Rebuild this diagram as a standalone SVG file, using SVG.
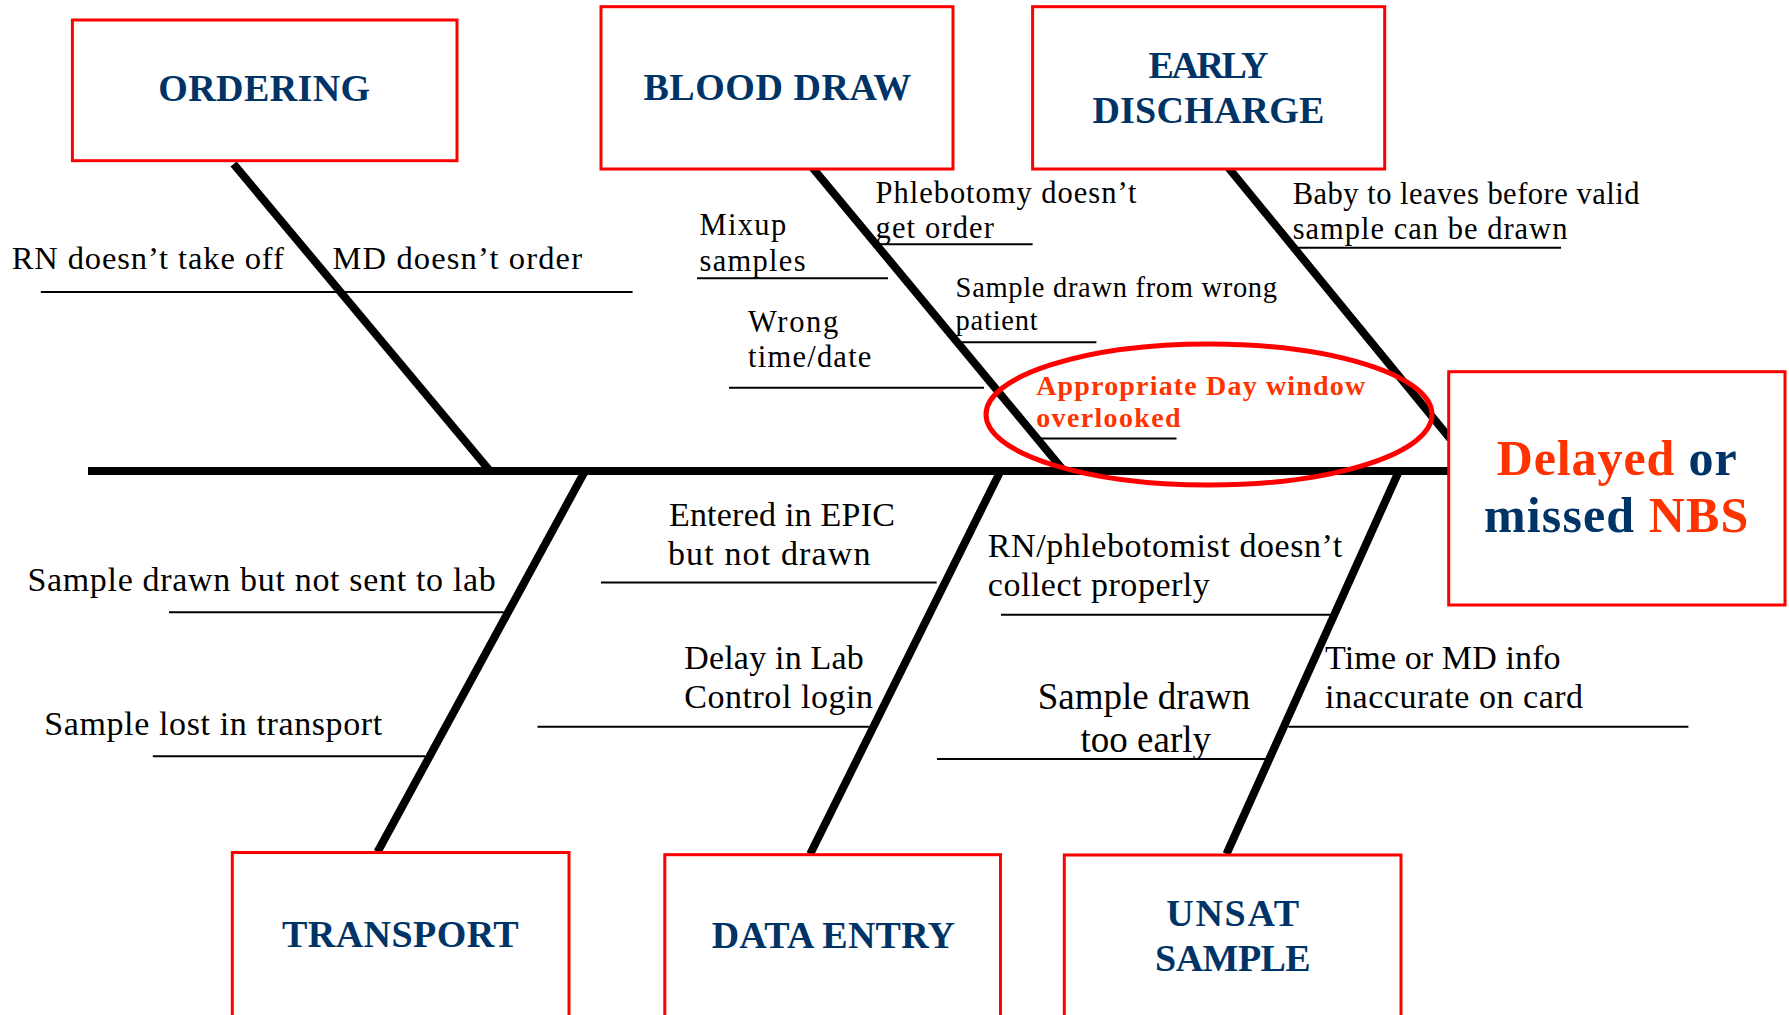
<svg xmlns="http://www.w3.org/2000/svg" width="1789" height="1015" viewBox="0 0 1789 1015">
<style>
.box{fill:#fff;stroke:#ff0000;stroke-width:3}
.head{font-family:"Liberation Serif","Times New Roman",serif;font-weight:bold;font-size:38px;fill:#003366;text-anchor:middle}
.lbl{font-family:"Liberation Serif","Times New Roman",serif;fill:#000}
.s33{font-size:34px}
.s31{font-size:32.5px}
.s29{font-size:30.5px}
.bone{stroke:#000;stroke-width:8;fill:none}
.ul{stroke:#000;stroke-width:2;fill:none}
.red{fill:#ff3300;font-weight:bold}
.navy{fill:#003366}
</style>
<rect width="1789" height="1015" fill="#fff"/>
<g id="connectors">
<line class="bone" x1="88" y1="471" x2="1449" y2="471"/>
<line class="bone" x1="233.6" y1="164" x2="490" y2="471"/>
<line class="bone" x1="811.7" y1="166.7" x2="1064" y2="471"/>
<line class="bone" x1="1227.6" y1="166.7" x2="1450" y2="438.5"/>
<line class="bone" x1="585" y1="471" x2="377.5" y2="852"/>
<line class="bone" x1="1000.5" y1="471" x2="810.2" y2="854"/>
<line class="bone" x1="1399" y1="471" x2="1226.5" y2="854"/>
<line class="ul" x1="40.8" y1="292" x2="632.6" y2="292"/>
<line class="ul" x1="697" y1="278.3" x2="888" y2="278.3"/>
<line class="ul" x1="875.5" y1="244.3" x2="1032.6" y2="244.3"/>
<line class="ul" x1="957" y1="342.3" x2="1096.4" y2="342.3"/>
<line class="ul" x1="729" y1="387.7" x2="984" y2="387.7"/>
<line class="ul" x1="1036" y1="438.5" x2="1176.5" y2="438.5"/>
<line class="ul" x1="1292.7" y1="247.7" x2="1561" y2="247.7"/>
<line class="ul" x1="169" y1="612.2" x2="503.8" y2="612.2"/>
<line class="ul" x1="152.8" y1="756.3" x2="425" y2="756.3"/>
<line class="ul" x1="601" y1="582.6" x2="936.7" y2="582.6"/>
<line class="ul" x1="537.5" y1="726.8" x2="868.9" y2="726.8"/>
<line class="ul" x1="1001" y1="614.7" x2="1332" y2="614.7"/>
<line class="ul" x1="937" y1="759" x2="1265.8" y2="759"/>
<line class="ul" x1="1288.3" y1="726.7" x2="1688.4" y2="726.7"/>
</g>
<g id="labels">
<text class="lbl s31" x="11.8" y="269" textLength="272">RN doesn’t take off</text>
<text class="lbl s31" x="332.5" y="269" textLength="249.5">MD doesn’t order</text>
<text class="lbl s29" x="699.5" y="235" textLength="86.7">Mixup</text>
<text class="lbl s29" x="699.5" y="270.7" textLength="106">samples</text>
<text class="lbl s29" x="875.5" y="203.3" textLength="261">Phlebotomy doesn’t</text>
<text class="lbl s29" x="875.5" y="238.3" textLength="118.4">get order</text>
<text class="lbl" font-size="28.5" x="955.6" y="296.7" textLength="321.4">Sample drawn from wrong</text>
<text class="lbl" font-size="28.5" x="955.6" y="330" textLength="82">patient</text>
<text class="lbl s29" x="748" y="331.7" textLength="90.3">Wrong</text>
<text class="lbl s29" x="748" y="366.7" textLength="123.4">time/date</text>
<text class="lbl s29" x="1292.7" y="204.3" textLength="346.7">Baby to leaves before valid</text>
<text class="lbl s29" x="1292.7" y="239" textLength="274.7">sample can be drawn</text>
<text class="lbl s33" x="27.4" y="590.5" textLength="468.4">Sample drawn but not sent to lab</text>
<text class="lbl s33" x="44.2" y="734.7" textLength="338">Sample lost in transport</text>
<text class="lbl s33" x="668.9" y="526.4" textLength="226">Entered in EPIC</text>
<text class="lbl s33" x="667.9" y="564.6" textLength="202.5">but not drawn</text>
<text class="lbl s33" x="684.2" y="669" textLength="179.6">Delay in Lab</text>
<text class="lbl s33" x="684.2" y="707.7" textLength="188.8">Control login</text>
<text class="lbl s33" x="987.8" y="557.4" textLength="354.5">RN/phlebotomist doesn’t</text>
<text class="lbl s33" x="987.8" y="596" textLength="222">collect properly</text>
<text class="lbl" font-size="37" x="1144" y="709.3" text-anchor="middle">Sample drawn</text>
<text class="lbl" font-size="37" x="1145.8" y="752" text-anchor="middle">too early</text>
<text class="lbl s33" x="1325.1" y="669.3" textLength="235.5">Time or MD info</text>
<text class="lbl s33" x="1325.1" y="708.3" textLength="258">inaccurate on card</text>
</g>
<g id="highlight">
<ellipse cx="1209" cy="414.5" rx="223" ry="70.5" fill="none" stroke="#ff0000" stroke-width="5"/>
<text class="lbl red" font-size="28" x="1036.2" y="395" textLength="329">Appropriate Day window</text>
<text class="lbl red" font-size="28" x="1036.2" y="426.7" textLength="144.4">overlooked</text>
</g>
<g id="ordering">
<rect class="box" x="72.4" y="20" width="384.6" height="140.7"/>
<text class="head" x="264.2" y="101" textLength="211.7">ORDERING</text>
</g>
<g id="blood-draw">
<rect class="box" x="601" y="6.7" width="352" height="162.3"/>
<text class="head" x="777.3" y="100" textLength="267.8">BLOOD DRAW</text>
</g>
<g id="early-discharge">
<rect class="box" x="1032.6" y="6.7" width="352.1" height="162.3"/>
<text class="head" x="1208.5" y="77.7" textLength="120">EARLY</text>
<text class="head" x="1208.4" y="122.7" textLength="232">DISCHARGE</text>
</g>
<g id="effect">
<rect class="box" x="1448.7" y="371.7" width="336.3" height="233.3"/>
<text class="lbl" font-size="50" font-weight="bold" x="1616.7" y="475" text-anchor="middle" textLength="240"><tspan fill="#ff3300">Delayed</tspan><tspan class="navy"> or</tspan></text>
<text class="lbl" font-size="50" font-weight="bold" x="1616.2" y="531.7" text-anchor="middle" textLength="264.3"><tspan class="navy">missed </tspan><tspan fill="#ff3300">NBS</tspan></text>
</g>
<g id="transport">
<rect class="box" x="232.3" y="852.5" width="336.7" height="180"/>
<text class="head" x="400.3" y="946.6" textLength="236.5">TRANSPORT</text>
</g>
<g id="data-entry">
<rect class="box" x="664.8" y="854.7" width="335.7" height="180"/>
<text class="head" x="833.3" y="948.3" textLength="243.3">DATA ENTRY</text>
</g>
<g id="unsat-sample">
<rect class="box" x="1064.3" y="855" width="336.7" height="180"/>
<text class="head" x="1232.7" y="925.7" textLength="132.7">UNSAT</text>
<text class="head" x="1232.9" y="970.7" textLength="155.6">SAMPLE</text>
</g>
</svg>
